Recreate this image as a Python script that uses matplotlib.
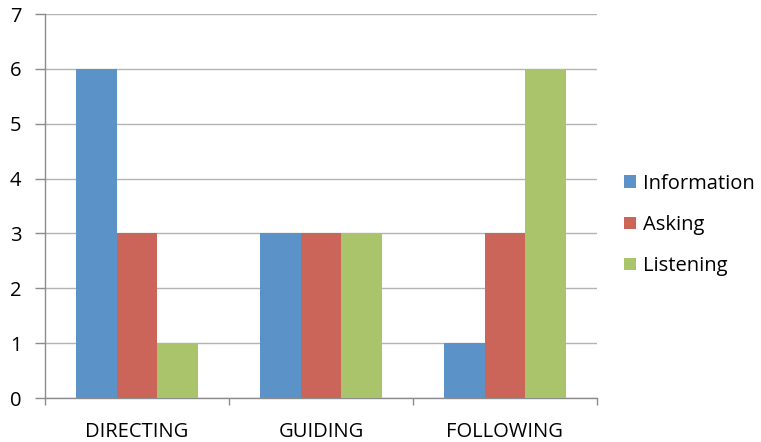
import numpy as np
import matplotlib.pyplot as plt
from matplotlib.patches import Patch

# --- Data ---
categories  = ["DIRECTING", "GUIDING", "FOLLOWING"]
series      = ["Information", "Asking", "Listening"]
information = [6, 3, 1]
asking      = [3, 3, 3]
listening   = [1, 3, 6]

# --- Style ---
COLORS    = ["#5B92C8", "#CB655A", "#A9C46A"]
GRID      = "#B3B3B3"
AXIS      = "#8C8C8C"
FONT      = "Open Sans"
FS        = 14.5

plt.rcParams["font.family"] = [FONT, "DejaVu Sans"]

fig = plt.figure(figsize=(7.61, 4.42), dpi=100)
ax = fig.add_axes([45 / 761, 1 - 398 / 442, (597 - 45) / 761, (398 - 14) / 442])

x = np.arange(len(categories))
width = 0.222
for i, (vals, col) in enumerate(zip([information, asking, listening], COLORS)):
    ax.bar(x + (i - 1) * width, vals, width, color=col, zorder=3, linewidth=0)

ax.set_xlim(-0.5, len(categories) - 0.5)
ax.set_ylim(0, 7)
ax.set_yticks(range(0, 8))
ax.set_xticks(x)
ax.set_xticklabels(categories)

# category boundary ticks
ax.set_xticks(np.arange(-0.5, len(categories)), minor=True)
ax.tick_params(axis="x", which="major", length=0, pad=17, labelsize=FS)
ax.tick_params(axis="x", which="minor", length=5, color=AXIS, width=1)
ax.tick_params(axis="y", length=7, color=AXIS, width=1, pad=10, labelsize=FS)

ax.grid(True, axis="y", color=GRID, linewidth=1, zorder=0)
ax.set_axisbelow(True)

for s in ["top", "right"]:
    ax.spines[s].set_visible(False)
for s in ["left", "bottom"]:
    ax.spines[s].set_color(AXIS)
    ax.spines[s].set_linewidth(1)

handles = [Patch(facecolor=c, edgecolor="none") for c in COLORS]
fig.legend(handles, series, loc="center left", bbox_to_anchor=(606 / 761, 1 - 225 / 442),
           frameon=False, fontsize=FS, handlelength=0.6, handleheight=0.6,
           handletextpad=0.35, labelspacing=1.05)

fig.savefig("out.png", dpi=100)
